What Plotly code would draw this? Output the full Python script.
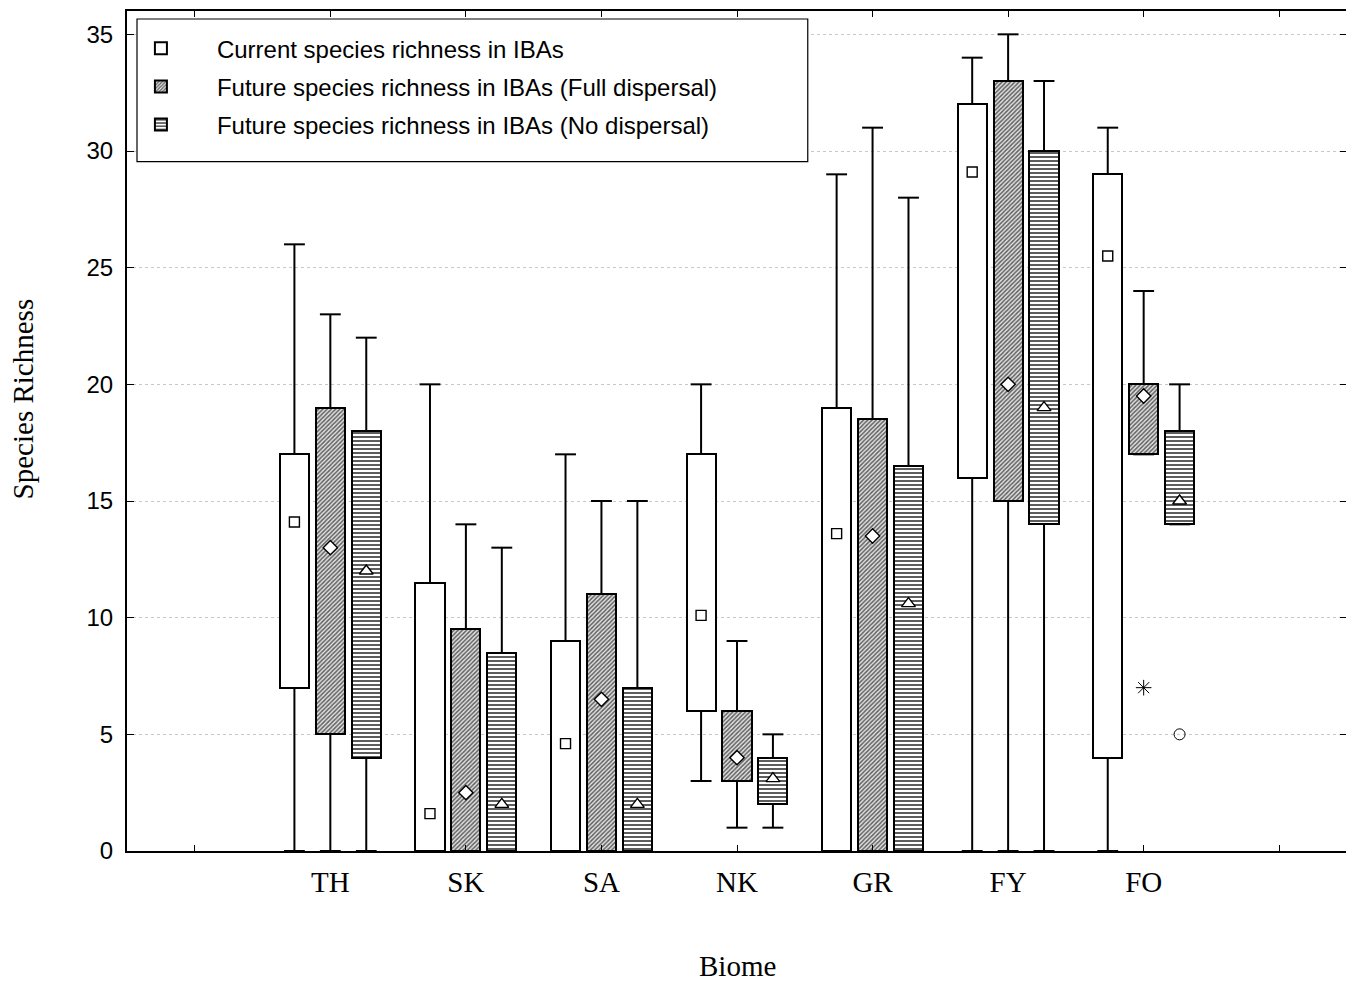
import plotly.graph_objects as go

# ---------------- data ----------------
biomes = ["TH", "SK", "SA", "NK", "GR", "FY", "FO"]
slots = [1, 2, 3, 4, 5, 6, 7]          # category slots (0 and 8 are empty)
slot_labels = ["", "TH", "SK", "SA", "NK", "GR", "FY", "FO", ""]

series_names = [
    "Current species richness in IBAs",
    "Future species richness in IBAs (Full dispersal)",
    "Future species richness in IBAs (No dispersal)",
]

current_min = [0, 0, 0, 3, 0, 0, 0]
current_q1 = [7, 0, 0, 6, 0, 16, 4]
current_mid = [14.1, 1.6, 4.6, 10.1, 13.6, 29.1, 25.5]
current_q3 = [17, 11.5, 9, 17, 19, 32, 29]
current_max = [26, 20, 17, 20, 29, 34, 31]

full_min = [0, 0, 0, 1, 0, 0, 17]
full_q1 = [5, 0, 0, 3, 0, 15, 17]
full_mid = [13, 2.5, 6.5, 4, 13.5, 20, 19.5]
full_q3 = [19, 9.5, 11, 6, 18.5, 33, 20]
full_max = [23, 14, 15, 9, 31, 35, 24]

no_min = [0, 0, 0, 1, 0, 0, 14]
no_q1 = [4, 0, 0, 2, 0, 14, 14]
no_mid = [12, 2, 2, 3.1, 10.6, 19, 15]
no_q3 = [18, 8.5, 7, 4, 16.5, 30, 18]
no_max = [22, 13, 15, 5, 28, 33, 20]

# outliers
outlier_full_biome = ["FO"]
outlier_full_value = [7]
outlier_no_biome = ["FO"]
outlier_no_value = [5]

# ---------------- styling ----------------
offsets = [-0.265, 0.0, 0.265]
box_width = 0.215
cap_half = 0.077
patterns = [
    dict(shape="", bgcolor="white"),
    dict(shape="/", size=3, solidity=0.5, fgcolor="#606060", bgcolor="#e4e4e4", fillmode="replace"),
    dict(shape="-", size=4, solidity=0.45, fgcolor="#4a4a4a", bgcolor="white", fillmode="replace"),
]
mid_symbols = ["square", "diamond", "triangle-up"]
mid_sizes = [10, 11, 12]

all_series = [
    (current_min, current_q1, current_mid, current_q3, current_max),
    (full_min, full_q1, full_mid, full_q3, full_max),
    (no_min, no_q1, no_mid, no_q3, no_max),
]

fig = go.Figure()

# boxes (bars from q1 to q3)
for k, (mn, q1, md, q3, mx) in enumerate(all_series):
    xs = [s + offsets[k] for s in slots]
    fig.add_trace(go.Bar(
        x=xs, y=[b - a for a, b in zip(q1, q3)], base=q1, width=box_width,
        name=series_names[k], legendgroup=str(k),
        marker=dict(color="white", pattern=patterns[k], line=dict(color="black", width=2)),
        hoverinfo="skip",
    ))

# whiskers
for k, (mn, q1, md, q3, mx) in enumerate(all_series):
    wx, wy = [], []
    for s, a, b, c, d in zip(slots, mn, q1, q3, mx):
        x0 = s + offsets[k]
        wx += [x0, x0, None, x0 - cap_half, x0 + cap_half, None,
               x0, x0, None, x0 - cap_half, x0 + cap_half, None]
        wy += [c, d, None, d, d, None, b, a, None, a, a, None]
    fig.add_trace(go.Scatter(x=wx, y=wy, mode="lines", showlegend=False,
                             line=dict(color="black", width=2), hoverinfo="skip"))

# middle markers
for k, (mn, q1, md, q3, mx) in enumerate(all_series):
    xs = [s + offsets[k] for s in slots]
    fig.add_trace(go.Scatter(
        x=xs, y=md, mode="markers", showlegend=False,
        marker=dict(symbol=mid_symbols[k], size=mid_sizes[k], color="white",
                    line=dict(color="black", width=1.4)),
    ))

# outliers
fig.add_trace(go.Scatter(
    x=[slots[biomes.index(b)] + offsets[1] for b in outlier_full_biome], y=outlier_full_value,
    mode="markers", showlegend=False,
    marker=dict(symbol="asterisk-open", size=13, color="black", line=dict(color="black", width=1)),
))
fig.add_trace(go.Scatter(
    x=[slots[biomes.index(b)] + offsets[2] for b in outlier_no_biome], y=outlier_no_value,
    mode="markers", showlegend=False,
    marker=dict(symbol="circle-open", size=11, color="black", line=dict(color="black", width=1)),
))

serif = "Liberation Serif, Times New Roman, serif"
sans = "Liberation Sans, Arial, sans-serif"

fig.update_layout(
    width=1346, height=974,
    margin=dict(l=119, r=7, t=1, b=131),
    plot_bgcolor="white", paper_bgcolor="white",
    barmode="overlay", bargap=0,
    showlegend=True,
    legend=dict(
        x=-0.0181, y=0.982, xanchor="left", yanchor="top",
        bgcolor="rgba(0,0,0,0)", borderwidth=0,
        font=dict(family=sans, size=24, color="black"),
        itemwidth=102, traceorder="grouped", tracegroupgap=4,
    ),
    shapes=[
        dict(type="rect", xref="paper", yref="paper", x0=0.0082, x1=0.558, y0=0.8207, y1=0.9905,
             line=dict(color="black", width=1.2), fillcolor="white", layer="above"),
    ],
    xaxis=dict(
        range=[-0.5, 8.5], tickmode="array", tickvals=list(range(9)), ticktext=slot_labels,
        ticks="inside", ticklen=6, tickwidth=1, tickcolor="black",
        showline=True, linecolor="black", linewidth=2, mirror="ticks",
        showgrid=False, zeroline=False,
        tickfont=dict(family=serif, size=29, color="black"),
        ticklabelstandoff=4,
    ),
    yaxis=dict(
        range=[0, 36], tickmode="array", tickvals=[0, 5, 10, 15, 20, 25, 30, 35],
        ticks="inside", ticklen=7, tickwidth=1, tickcolor="black",
        showline=True, linecolor="black", linewidth=2, mirror="ticks",
        showgrid=True, gridcolor="#c8c8c8", gridwidth=1, griddash="dot",
        zeroline=False,
        tickfont=dict(family=sans, size=24, color="black"),
        ticklabelstandoff=7,
    ),
    annotations=[
        dict(text="Species Richness", xref="paper", yref="paper", x=-0.085, y=0.538,
             xanchor="center", yanchor="middle", textangle=-90, showarrow=False,
             font=dict(family=serif, size=29, color="black")),
        dict(text="Biome", xref="paper", yref="paper", x=0.5, y=-0.137,
             xanchor="center", yanchor="middle", showarrow=False,
             font=dict(family=serif, size=29, color="black")),
    ],
)

fig.write_html("out.html")
